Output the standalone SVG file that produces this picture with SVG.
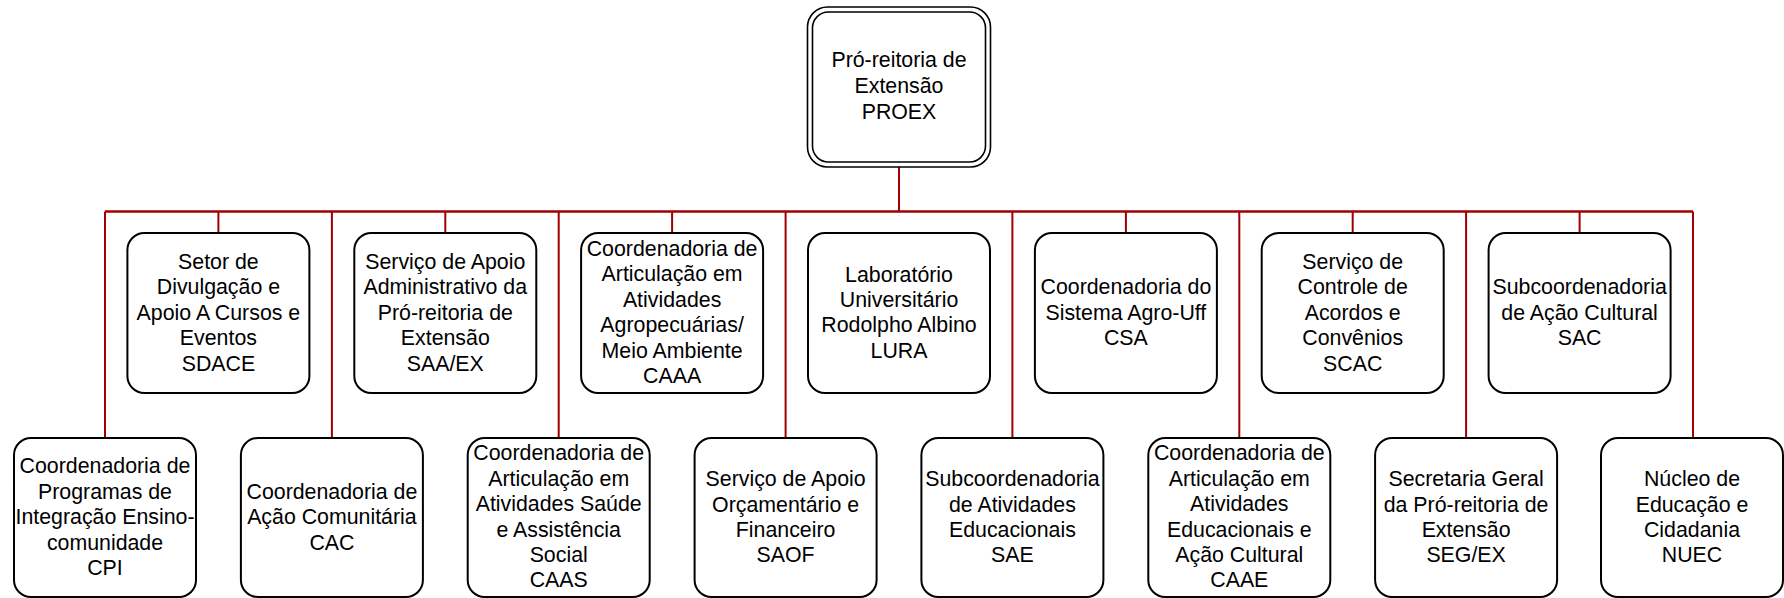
<svg xmlns="http://www.w3.org/2000/svg" width="1784" height="598" viewBox="0 0 1784 598">
<style>
.box{fill:#ffffff;stroke:#000000;stroke-width:2}
.dbl{fill:#ffffff;stroke:#000000;stroke-width:1.6}
.t{font-family:"Liberation Sans",Arial,sans-serif;font-size:21.33px;fill:#000000;text-anchor:middle}
.c{fill:none;stroke:#A00000;stroke-width:2}
.bus{fill:none;stroke:#A00000;stroke-width:2.6}
</style>
<rect width="1784" height="598" fill="#ffffff"/>
<g id="connectors">
<path class="c" d="M899,167 V211.5"/>
<path class="bus" d="M105,211.5 H1693"/>
<path class="c" d="M105,211.5 V438 M331.9,211.5 V438 M558.7,211.5 V438 M785.6,211.5 V438 M1012.4,211.5 V438 M1239.3,211.5 V438 M1466.1,211.5 V438 M1693,211.5 V438"/>
<path class="c" d="M218.4,211.5 V233 M445.3,211.5 V233 M672.1,211.5 V233 M1125.9,211.5 V233 M1352.7,211.5 V233 M1579.6,211.5 V233"/>
</g>
<g id="proex">
<rect class="dbl" x="807.5" y="7" width="183" height="160" rx="20"/>
<rect class="dbl" x="812.5" y="12" width="173" height="150" rx="16"/>
<text class="t" x="899" y="67">Pró-reitoria de</text>
<text class="t" x="899" y="92.8">Extensão</text>
<text class="t" x="899" y="118.6">PROEX</text>
</g>
<g id="sdace">
<rect class="box" x="127.4" y="233" width="182" height="160" rx="17"/>
<text class="t" x="218.4" y="268.9">Setor de</text>
<text class="t" x="218.4" y="294.3">Divulgação e</text>
<text class="t" x="218.4" y="319.7">Apoio A Cursos e</text>
<text class="t" x="218.4" y="345.1">Eventos</text>
<text class="t" x="218.4" y="370.5">SDACE</text>
</g>
<g id="saaex">
<rect class="box" x="354.3" y="233" width="182" height="160" rx="17"/>
<text class="t" x="445.3" y="268.9">Serviço de Apoio</text>
<text class="t" x="445.3" y="294.3">Administrativo da</text>
<text class="t" x="445.3" y="319.7">Pró-reitoria de</text>
<text class="t" x="445.3" y="345.1">Extensão</text>
<text class="t" x="445.3" y="370.5">SAA/EX</text>
</g>
<g id="caaa">
<rect class="box" x="581.1" y="233" width="182" height="160" rx="17"/>
<text class="t" x="672.1" y="255.9">Coordenadoria de</text>
<text class="t" x="672.1" y="281.3">Articulação em</text>
<text class="t" x="672.1" y="306.7">Atividades</text>
<text class="t" x="672.1" y="332.1">Agropecuárias/</text>
<text class="t" x="672.1" y="357.5">Meio Ambiente</text>
<text class="t" x="672.1" y="382.9">CAAA</text>
</g>
<g id="lura">
<rect class="box" x="808" y="233" width="182" height="160" rx="17"/>
<text class="t" x="899" y="281.6">Laboratório</text>
<text class="t" x="899" y="307">Universitário</text>
<text class="t" x="899" y="332.4">Rodolpho Albino</text>
<text class="t" x="899" y="357.8">LURA</text>
</g>
<g id="csa">
<rect class="box" x="1034.9" y="233" width="182" height="160" rx="17"/>
<text class="t" x="1125.9" y="294.3">Coordenadoria do</text>
<text class="t" x="1125.9" y="319.7">Sistema Agro-Uff</text>
<text class="t" x="1125.9" y="345.1">CSA</text>
</g>
<g id="scac">
<rect class="box" x="1261.7" y="233" width="182" height="160" rx="17"/>
<text class="t" x="1352.7" y="268.9">Serviço de</text>
<text class="t" x="1352.7" y="294.3">Controle de</text>
<text class="t" x="1352.7" y="319.7">Acordos e</text>
<text class="t" x="1352.7" y="345.1">Convênios</text>
<text class="t" x="1352.7" y="370.5">SCAC</text>
</g>
<g id="sac">
<rect class="box" x="1488.6" y="233" width="182" height="160" rx="17"/>
<text class="t" x="1579.6" y="294.3">Subcoordenadoria</text>
<text class="t" x="1579.6" y="319.7">de Ação Cultural</text>
<text class="t" x="1579.6" y="345.1">SAC</text>
</g>
<g id="cpi">
<rect class="box" x="14" y="438" width="182" height="159" rx="17"/>
<text class="t" x="105" y="473.4">Coordenadoria de</text>
<text class="t" x="105" y="498.8">Programas de</text>
<text class="t" x="105" y="524.2">Integração Ensino-</text>
<text class="t" x="105" y="549.6">comunidade</text>
<text class="t" x="105" y="575">CPI</text>
</g>
<g id="cac">
<rect class="box" x="240.9" y="438" width="182" height="159" rx="17"/>
<text class="t" x="331.9" y="498.8">Coordenadoria de</text>
<text class="t" x="331.9" y="524.2">Ação Comunitária</text>
<text class="t" x="331.9" y="549.6">CAC</text>
</g>
<g id="caas">
<rect class="box" x="467.7" y="438" width="182" height="159" rx="17"/>
<text class="t" x="558.7" y="460.4">Coordenadoria de</text>
<text class="t" x="558.7" y="485.8">Articulação em</text>
<text class="t" x="558.7" y="511.2">Atividades Saúde</text>
<text class="t" x="558.7" y="536.6">e Assistência</text>
<text class="t" x="558.7" y="562">Social</text>
<text class="t" x="558.7" y="587.4">CAAS</text>
</g>
<g id="saof">
<rect class="box" x="694.6" y="438" width="182" height="159" rx="17"/>
<text class="t" x="785.6" y="486.1">Serviço de Apoio</text>
<text class="t" x="785.6" y="511.5">Orçamentário e</text>
<text class="t" x="785.6" y="536.9">Financeiro</text>
<text class="t" x="785.6" y="562.3">SAOF</text>
</g>
<g id="sae">
<rect class="box" x="921.4" y="438" width="182" height="159" rx="17"/>
<text class="t" x="1012.4" y="486.1">Subcoordenadoria</text>
<text class="t" x="1012.4" y="511.5">de Atividades</text>
<text class="t" x="1012.4" y="536.9">Educacionais</text>
<text class="t" x="1012.4" y="562.3">SAE</text>
</g>
<g id="caae">
<rect class="box" x="1148.3" y="438" width="182" height="159" rx="17"/>
<text class="t" x="1239.3" y="460.4">Coordenadoria de</text>
<text class="t" x="1239.3" y="485.8">Articulação em</text>
<text class="t" x="1239.3" y="511.2">Atividades</text>
<text class="t" x="1239.3" y="536.6">Educacionais e</text>
<text class="t" x="1239.3" y="562">Ação Cultural</text>
<text class="t" x="1239.3" y="587.4">CAAE</text>
</g>
<g id="segex">
<rect class="box" x="1375.1" y="438" width="182" height="159" rx="17"/>
<text class="t" x="1466.1" y="486.1">Secretaria Geral</text>
<text class="t" x="1466.1" y="511.5">da Pró-reitoria de</text>
<text class="t" x="1466.1" y="536.9">Extensão</text>
<text class="t" x="1466.1" y="562.3">SEG/EX</text>
</g>
<g id="nuec">
<rect class="box" x="1601" y="438" width="182" height="159" rx="17"/>
<text class="t" x="1692" y="486.1">Núcleo de</text>
<text class="t" x="1692" y="511.5">Educação e</text>
<text class="t" x="1692" y="536.9">Cidadania</text>
<text class="t" x="1692" y="562.3">NUEC</text>
</g>
</svg>
